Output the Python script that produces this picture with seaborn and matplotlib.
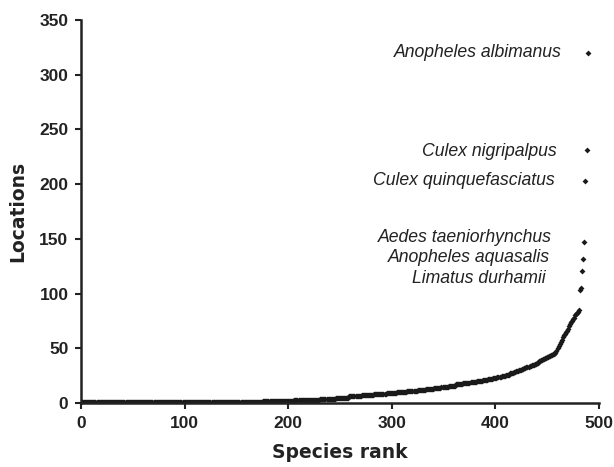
# Species rank vs number of locations (rank-abundance style scatter)

import numpy as np
import pandas as pd
import matplotlib
matplotlib.use("Agg")
import matplotlib.pyplot as plt
import seaborn as sns

# number of locations for the bulk of species, as value / how many species share it
bulk_values = [1, 2, 3, 4, 5, 6, 7, 8, 9, 10, 11, 12, 13, 14, 15, 16, 17, 18,
               19, 20, 21, 22, 23, 24, 25, 26, 27]
bulk_counts = [175, 30, 25, 15, 13, 12, 12, 12, 10, 10, 10, 8, 8, 7, 7, 7, 7, 7,
               6, 6, 5, 5, 4, 4, 4, 4, 4]

# the upper tail, one value per species (ascending)
tail_values = [28, 28, 29, 29, 29, 30, 30, 30, 31, 31, 32, 32, 33, 33, 33, 34,
               34, 35, 35, 35, 36, 36, 37, 37,
               38, 38, 39, 39, 40, 40, 41, 41, 42, 42, 43, 43, 44, 44, 45, 45, 46,
               48, 50, 52, 54, 56, 58, 60, 62, 63, 65, 66, 68,
               70, 72, 74, 75, 77, 78, 80, 81, 82, 83, 85,
               103, 105, 121, 132, 147, 203, 231, 320]

# labelled species (top of the ranking) and where their names sit (rank, locations)
label_names = ["Anopheles albimanus", "Culex nigripalpus", "Culex quinquefasciatus",
               "Aedes taeniorhynchus", "Anopheles aquasalis", "Limatus durhamii"]
label_x = [464, 459.5, 457.5, 455, 453, 448.5]
label_y = [316.5, 225.5, 199, 147.5, 128.5, 109.5]

locations = np.concatenate([np.repeat(bulk_values, bulk_counts), tail_values])
data = pd.DataFrame({"rank": np.arange(1, len(locations) + 1), "locations": locations})

sns.set_style("ticks")
plt.rcParams["font.family"] = ["Liberation Sans", "DejaVu Sans"]

fig = plt.figure(figsize=(6.14, 4.67), dpi=100)
ax = fig.add_axes([0.1319, 0.137, 0.8436, 0.820])

sns.scatterplot(x="rank", y="locations", data=data, ax=ax, color="#1a1a1a",
                s=9, marker="D", linewidth=0)

# species names, right aligned to the left of their points
for name, tx, ty in zip(label_names, label_x, label_y):
    ax.text(tx, ty, name, ha="right", va="baseline", style="italic",
            fontsize=12.7, color="#222222")

ax.set_xlim(0, 500)
ax.set_ylim(0, 350)
ax.set_xticks(range(0, 501, 100))
ax.set_yticks(range(0, 351, 50))
ax.tick_params(direction="out", length=4, width=1.5, labelsize=12.5,
               color="#222222", labelcolor="#222222")
ax.tick_params(axis="x", pad=5)
ax.tick_params(axis="y", pad=5)
for lab in ax.get_xticklabels() + ax.get_yticklabels():
    lab.set_fontweight("bold")
for side in ["left", "bottom"]:
    ax.spines[side].set_linewidth(1.8)
    ax.spines[side].set_color("#222222")
sns.despine(ax=ax)

ax.set_xlabel("Species rank", fontsize=13.5, fontweight="bold", labelpad=9,
              family="DejaVu Sans", color="#222222")
ax.set_ylabel("Locations", fontsize=13.5, fontweight="bold", labelpad=9,
              family="DejaVu Sans", color="#222222")

fig.savefig("out.png", dpi=100)
